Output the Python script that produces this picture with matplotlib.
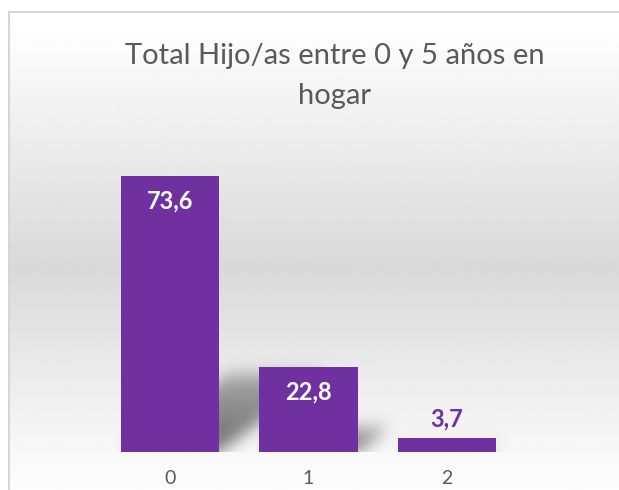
import matplotlib as mpl
mpl.use('Agg')
import matplotlib.pyplot as plt
import numpy as np
from matplotlib.path import Path

# Data
categories = ['0', '1', '2']
values = [73.6, 22.8, 3.7]
value_labels = ['73,6', '22,8', '3,7']
title = 'Total Hijo/as entre 0 y 5 años en\nhogar'

purple = '#7030A0'
grey_text = '#595959'
W, H = 619, 490

plt.rcParams['font.family'] = ['Lato', 'DejaVu Sans']
fig = plt.figure(figsize=(W / 100, H / 100), dpi=100)

# background: chart area with vertical white-grey-white gradient
bg = fig.add_axes([0, 0, 1, 1], zorder=-1)
bg.set_xlim(0, W)
bg.set_ylim(H, 0)
bg.axis('off')
ys = np.arange(H)
shade = np.interp(ys, [12, 260, 470, 490], [1.0, 0.851, 0.985, 0.99])
grad = np.repeat(shade[:, None], 2, axis=1)
bg.imshow(grad, cmap='gray', vmin=0, vmax=1, extent=(8, W, H, 12), aspect='auto', interpolation='bilinear')
bg.plot([8, W], [12.5, 12.5], color='#d6d6d6', lw=1.5, solid_capstyle='butt')
bg.plot([8.5, 8.5], [12, H], color='#d6d6d6', lw=1.5, solid_capstyle='butt')

# plot area
ax = fig.add_axes([100.75 / W, 38 / H, 415.5 / W, 300 / H])
ax.patch.set_visible(False)
ax.set_xlim(-0.5, 2.5)
ax.set_ylim(0, 80)
bw = 0.708
x = np.arange(len(categories))

# soft perspective shadows behind bars
gx = np.linspace(-0.5, 2.5, 600)
gy = np.linspace(0, 80, 320)
X, Y = np.meshgrid(gx, gy)
pts = np.column_stack([X.ravel(), Y.ravel()])
mask = np.zeros(X.shape)
for i, v in enumerate(values):
    l, r = i - bw / 2, i + bw / 2
    sh = v * 0.0105
    top = v * 0.28
    poly = Path([(l, 0), (r, 0), (r + sh, top), (l + sh, top)])
    inside = poly.contains_points(pts).reshape(X.shape)
    fade = 1 - 0.45 * np.clip(Y / top, 0, 1)
    mask = np.maximum(mask, inside * fade)

def blur(a, sigma, axis):
    k = np.arange(-3 * sigma, 3 * sigma + 1)
    k = np.exp(-k ** 2 / (2 * sigma ** 2))
    k /= k.sum()
    return np.apply_along_axis(lambda m: np.convolve(m, k, mode='same'), axis, a)

mask = blur(blur(mask, 9, 1), 9, 0)
img = np.zeros(X.shape + (4,))
img[..., :3] = 0.42
img[..., 3] = np.clip(mask * 1.0, 0, 1)
ax.imshow(img, origin='lower', extent=(-0.5, 2.5, 0, 80), aspect='auto', zorder=1)

ax.bar(x, values, width=bw, color=purple, zorder=2)

for i, v in enumerate(values):
    if v > 10:
        ax.text(i, v - 6.7, value_labels[i], ha='center', va='center', color='white',
                fontsize=17, fontweight='bold', zorder=3)
    else:
        ax.text(i, v + 5, value_labels[i], ha='center', va='center', color=purple,
                fontsize=17, fontweight='bold', zorder=3)

ax.set_xticks(x)
ax.set_xticklabels(categories, fontsize=14, color=grey_text)
ax.tick_params(axis='x', length=0, pad=13)
ax.set_yticks([])
for s in ax.spines.values():
    s.set_visible(False)

fig.text(335 / W, 1 - 104 / H, title, ha='center', va='baseline', fontsize=21,
         color=grey_text, linespacing=1.66)

fig.savefig('out.png', dpi=100)
